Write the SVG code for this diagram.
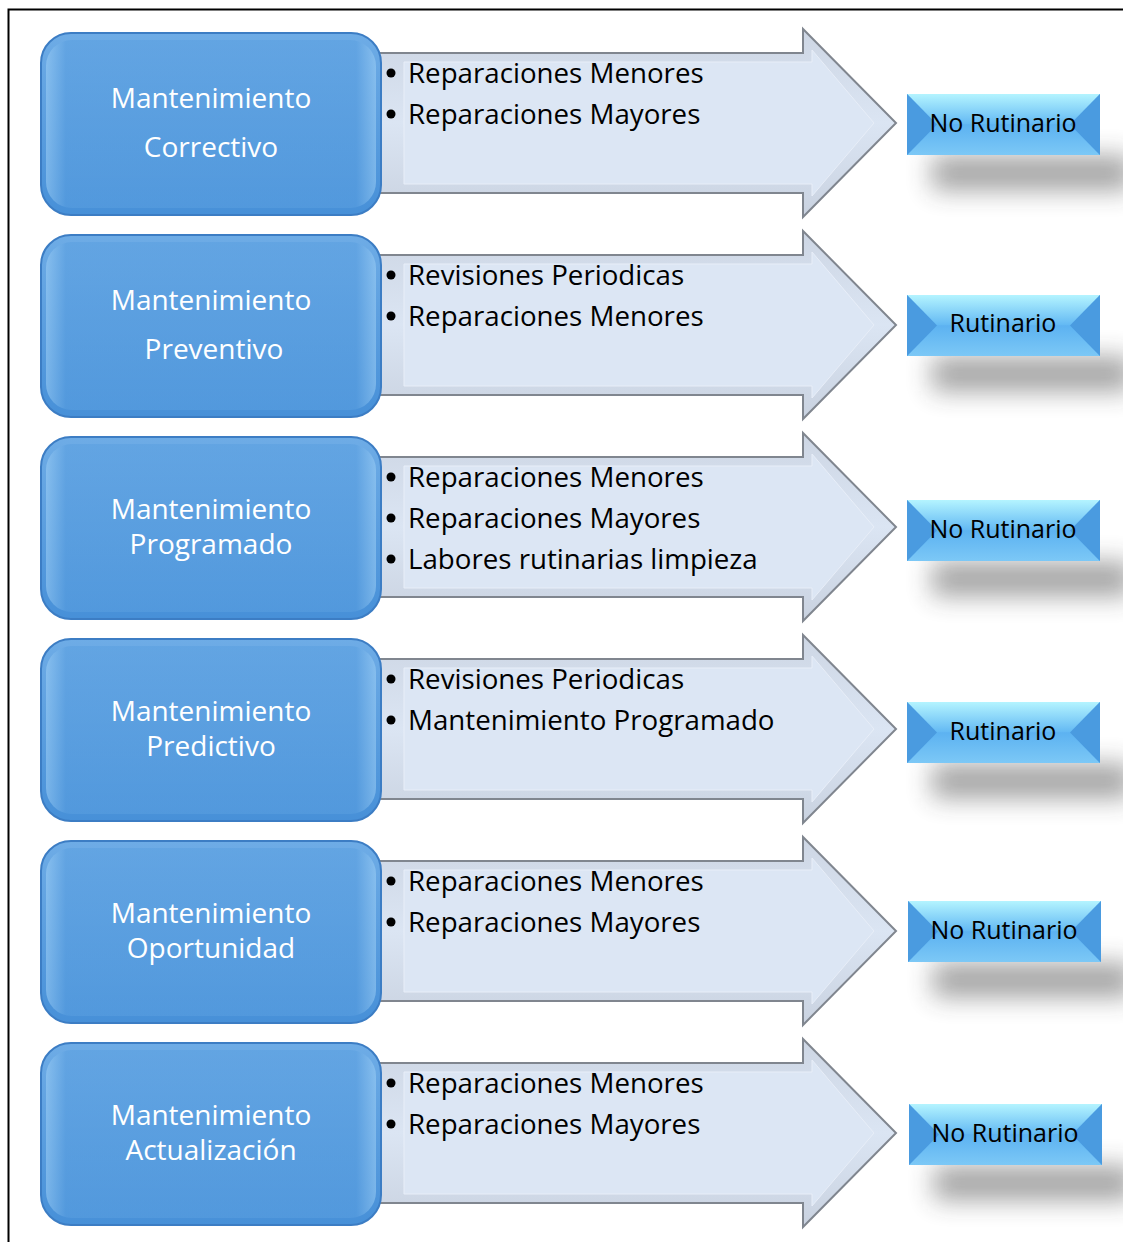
<svg xmlns="http://www.w3.org/2000/svg" width="1123" height="1242" viewBox="0 0 1123 1242">
<defs>
<linearGradient id="gBlue" x1="0" y1="0" x2="0" y2="1">
<stop offset="0" stop-color="#6eace6"/>
<stop offset="1" stop-color="#4790d8"/>
</linearGradient>
<linearGradient id="gBlueEdge" x1="0" y1="0" x2="1" y2="0">
<stop offset="0" stop-color="#9fd0f6"/>
<stop offset="0.06" stop-color="#5a9fe0"/>
<stop offset="0.94" stop-color="#5a9fe0"/>
<stop offset="1" stop-color="#9fd0f6"/>
</linearGradient>
<linearGradient id="gArrow" x1="0" y1="0" x2="0" y2="1">
<stop offset="0" stop-color="#cdd6e4"/>
<stop offset="0.5" stop-color="#dbe5f3"/>
<stop offset="1" stop-color="#c9d2e0"/>
</linearGradient>
<linearGradient id="gTop" x1="0" y1="0" x2="0" y2="1">
<stop offset="0" stop-color="#b4f4ff"/>
<stop offset="1" stop-color="#62b8f3"/>
</linearGradient>
<linearGradient id="gBot" x1="0" y1="0" x2="0" y2="1">
<stop offset="0" stop-color="#5cb2f1"/>
<stop offset="1" stop-color="#7cc8f6"/>
</linearGradient>
<filter id="fShadow" x="-40%" y="-120%" width="180%" height="340%">
<feGaussianBlur stdDeviation="13"/>
</filter>
<style>
.bx{fill:url(#gBlue);stroke:#3c7dc4;stroke-width:2}
.bxi{fill:url(#gBlueEdge);opacity:0.55}
.bxt{fill:#ffffff;font-family:"Open Sans","Noto Sans",sans-serif;font-size:28px;text-anchor:middle}
.ar{fill:url(#gArrow);stroke:#80868f;stroke-width:2}
.ari{fill:#dce6f4;stroke:#e8eef8;stroke-width:1}
.lt{fill:#000000;font-family:"Open Sans","Noto Sans",sans-serif;font-size:27.7px}
.bu{fill:#000000}
.sh{fill:#333;opacity:0.45;filter:url(#fShadow)}
.obc{fill:#5fb3f2}
.obt{fill:url(#gTop)}
.obb{fill:url(#gBot)}
.obs{fill:#4a9be0}
.ot{fill:#000000;font-family:"Open Sans","Noto Sans",sans-serif;font-size:25px;text-anchor:middle}
</style>
</defs>
<rect x="0" y="0" width="1123" height="1242" fill="#ffffff"/>
<path d="M8.5 1242 V9.5 H1123" fill="none" stroke="#000" stroke-width="2"/>

<g id="connectors">
<g transform="translate(0,0)"><polygon class="ar" points="378,53 803,53 803,29 896,123 803,217 803,193 378,193"/><polygon class="ari" points="404,62 812,62 812,50 874,123 812,196 812,184 404,184"/></g>
<g transform="translate(0,202)"><polygon class="ar" points="378,53 803,53 803,29 896,123 803,217 803,193 378,193"/><polygon class="ari" points="404,62 812,62 812,50 874,123 812,196 812,184 404,184"/></g>
<g transform="translate(0,404)"><polygon class="ar" points="378,53 803,53 803,29 896,123 803,217 803,193 378,193"/><polygon class="ari" points="404,62 812,62 812,50 874,123 812,196 812,184 404,184"/></g>
<g transform="translate(0,606)"><polygon class="ar" points="378,53 803,53 803,29 896,123 803,217 803,193 378,193"/><polygon class="ari" points="404,62 812,62 812,50 874,123 812,196 812,184 404,184"/></g>
<g transform="translate(0,808)"><polygon class="ar" points="378,53 803,53 803,29 896,123 803,217 803,193 378,193"/><polygon class="ari" points="404,62 812,62 812,50 874,123 812,196 812,184 404,184"/></g>
<g transform="translate(0,1010)"><polygon class="ar" points="378,53 803,53 803,29 896,123 803,217 803,193 378,193"/><polygon class="ari" points="404,62 812,62 812,50 874,123 812,196 812,184 404,184"/></g>
</g>

<g id="list1">
<circle class="bu" cx="391" cy="73" r="4.5"/><text class="lt" x="408" y="83">Reparaciones Menores</text>
<circle class="bu" cx="391" cy="114" r="4.5"/><text class="lt" x="408" y="124">Reparaciones Mayores</text>
</g>
<g id="list2">
<circle class="bu" cx="391" cy="275" r="4.5"/><text class="lt" x="408" y="285">Revisiones Periodicas</text>
<circle class="bu" cx="391" cy="316" r="4.5"/><text class="lt" x="408" y="326">Reparaciones Menores</text>
</g>
<g id="list3">
<circle class="bu" cx="391" cy="477" r="4.5"/><text class="lt" x="408" y="487">Reparaciones Menores</text>
<circle class="bu" cx="391" cy="518" r="4.5"/><text class="lt" x="408" y="528">Reparaciones Mayores</text>
<circle class="bu" cx="391" cy="559" r="4.5"/><text class="lt" x="408" y="569">Labores rutinarias limpieza</text>
</g>
<g id="list4">
<circle class="bu" cx="391" cy="679" r="4.5"/><text class="lt" x="408" y="689">Revisiones Periodicas</text>
<circle class="bu" cx="391" cy="720" r="4.5"/><text class="lt" x="408" y="730">Mantenimiento Programado</text>
</g>
<g id="list5">
<circle class="bu" cx="391" cy="881" r="4.5"/><text class="lt" x="408" y="891">Reparaciones Menores</text>
<circle class="bu" cx="391" cy="922" r="4.5"/><text class="lt" x="408" y="932">Reparaciones Mayores</text>
</g>
<g id="list6">
<circle class="bu" cx="391" cy="1083" r="4.5"/><text class="lt" x="408" y="1093">Reparaciones Menores</text>
<circle class="bu" cx="391" cy="1124" r="4.5"/><text class="lt" x="408" y="1134">Reparaciones Mayores</text>
</g>

<g id="node1"><rect class="bx" x="41" y="33" width="340" height="182" rx="30"/><rect class="bxi" x="46" y="40" width="330" height="168" rx="26"/><text class="bxt" x="211" y="108">Mantenimiento</text><text class="bxt" x="211" y="157">Correctivo</text></g>
<g id="node2"><rect class="bx" x="41" y="235" width="340" height="182" rx="30"/><rect class="bxi" x="46" y="242" width="330" height="168" rx="26"/><text class="bxt" x="211" y="310">Mantenimiento</text><text class="bxt" x="214" y="359">Preventivo</text></g>
<g id="node3"><rect class="bx" x="41" y="437" width="340" height="182" rx="30"/><rect class="bxi" x="46" y="444" width="330" height="168" rx="26"/><text class="bxt" x="211" y="519">Mantenimiento</text><text class="bxt" x="211" y="554">Programado</text></g>
<g id="node4"><rect class="bx" x="41" y="639" width="340" height="182" rx="30"/><rect class="bxi" x="46" y="646" width="330" height="168" rx="26"/><text class="bxt" x="211" y="721">Mantenimiento</text><text class="bxt" x="211" y="756">Predictivo</text></g>
<g id="node5"><rect class="bx" x="41" y="841" width="340" height="182" rx="30"/><rect class="bxi" x="46" y="848" width="330" height="168" rx="26"/><text class="bxt" x="211" y="923">Mantenimiento</text><text class="bxt" x="211" y="958">Oportunidad</text></g>
<g id="node6"><rect class="bx" x="41" y="1043" width="340" height="182" rx="30"/><rect class="bxi" x="46" y="1050" width="330" height="168" rx="26"/><text class="bxt" x="211" y="1125">Mantenimiento</text><text class="bxt" x="211" y="1160">Actualización</text></g>

<g id="out1" transform="translate(907,94)"><rect class="sh" x="25" y="62" width="200" height="34"/><rect class="obc" width="193" height="61"/><polygon class="obt" points="0,0 193,0 163,30.5 30,30.5"/><polygon class="obb" points="0,61 193,61 163,30.5 30,30.5"/><polygon class="obs" points="0,0 30,30.5 0,61"/><polygon class="obs" points="193,0 163,30.5 193,61"/><text class="ot" x="96" y="38">No Rutinario</text></g>
<g id="out2" transform="translate(907,295)"><rect class="sh" x="25" y="62" width="200" height="34"/><rect class="obc" width="193" height="61"/><polygon class="obt" points="0,0 193,0 163,30.5 30,30.5"/><polygon class="obb" points="0,61 193,61 163,30.5 30,30.5"/><polygon class="obs" points="0,0 30,30.5 0,61"/><polygon class="obs" points="193,0 163,30.5 193,61"/><text class="ot" x="96" y="37">Rutinario</text></g>
<g id="out3" transform="translate(907,500)"><rect class="sh" x="25" y="62" width="200" height="34"/><rect class="obc" width="193" height="61"/><polygon class="obt" points="0,0 193,0 163,30.5 30,30.5"/><polygon class="obb" points="0,61 193,61 163,30.5 30,30.5"/><polygon class="obs" points="0,0 30,30.5 0,61"/><polygon class="obs" points="193,0 163,30.5 193,61"/><text class="ot" x="96" y="38">No Rutinario</text></g>
<g id="out4" transform="translate(907,702)"><rect class="sh" x="25" y="62" width="200" height="34"/><rect class="obc" width="193" height="61"/><polygon class="obt" points="0,0 193,0 163,30.5 30,30.5"/><polygon class="obb" points="0,61 193,61 163,30.5 30,30.5"/><polygon class="obs" points="0,0 30,30.5 0,61"/><polygon class="obs" points="193,0 163,30.5 193,61"/><text class="ot" x="96" y="38">Rutinario</text></g>
<g id="out5" transform="translate(908,901)"><rect class="sh" x="25" y="62" width="200" height="34"/><rect class="obc" width="193" height="61"/><polygon class="obt" points="0,0 193,0 163,30.5 30,30.5"/><polygon class="obb" points="0,61 193,61 163,30.5 30,30.5"/><polygon class="obs" points="0,0 30,30.5 0,61"/><polygon class="obs" points="193,0 163,30.5 193,61"/><text class="ot" x="96" y="38">No Rutinario</text></g>
<g id="out6" transform="translate(909,1104)"><rect class="sh" x="25" y="62" width="200" height="34"/><rect class="obc" width="193" height="61"/><polygon class="obt" points="0,0 193,0 163,30.5 30,30.5"/><polygon class="obb" points="0,61 193,61 163,30.5 30,30.5"/><polygon class="obs" points="0,0 30,30.5 0,61"/><polygon class="obs" points="193,0 163,30.5 193,61"/><text class="ot" x="96" y="38">No Rutinario</text></g>
</svg>
